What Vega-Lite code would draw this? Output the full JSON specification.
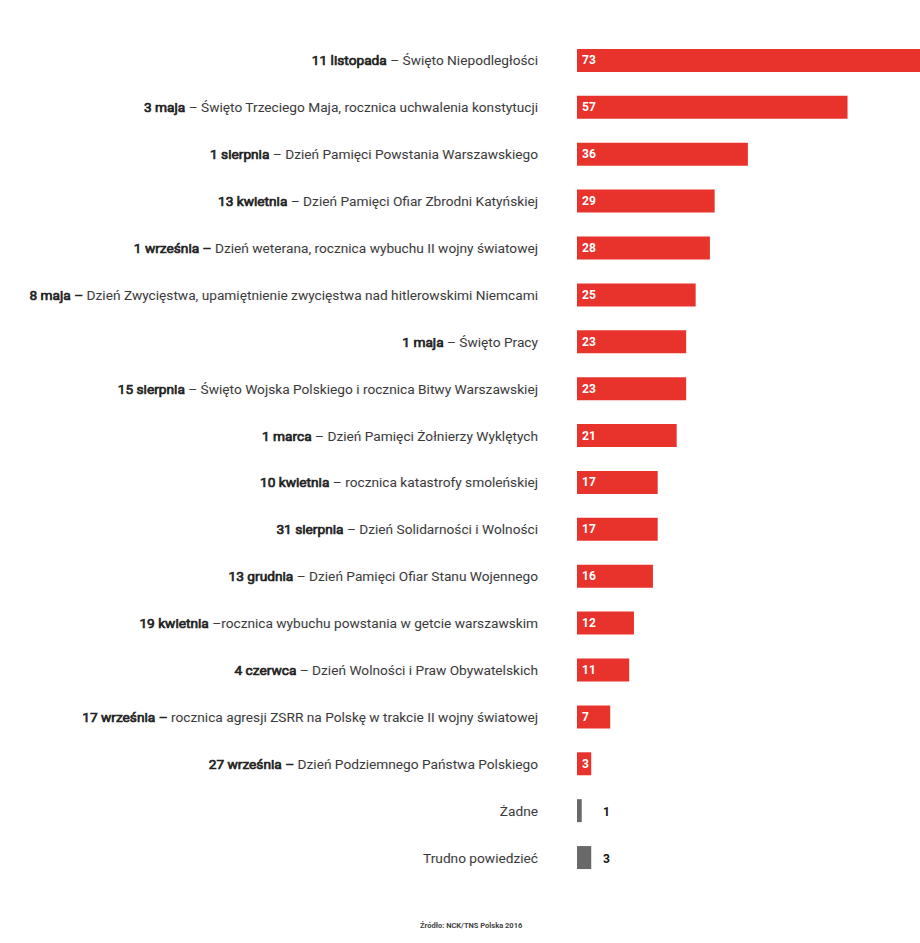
{
  "$schema": "https://vega.github.io/schema/vega-lite/v6.json",
  "width": 920,
  "height": 943,
  "padding": 0,
  "autosize": {"type": "none"},
  "background": "white",
  "config": {"view": {"stroke": null}},
  "title": {"text": "Źródło: NCK/TNS Polska 2016", "orient": "bottom", "anchor": "start", "dx": 420, "offset": -21, "baseline": "top", "fontSize": 7.5, "fontWeight": "bold", "color": "#444", "font": "Roboto, sans-serif"},
  "data": {"values": [
    {"bold": "11 listopada", "rest": " – Święto Niepodległości", "value": 73, "kind": "red"},
    {"bold": "3 maja", "rest": " – Święto Trzeciego Maja, rocznica uchwalenia konstytucji", "value": 57, "kind": "red"},
    {"bold": "1 sierpnia", "rest": " – Dzień Pamięci Powstania Warszawskiego", "value": 36, "kind": "red"},
    {"bold": "13 kwietnia", "rest": " – Dzień Pamięci Ofiar Zbrodni Katyńskiej", "value": 29, "kind": "red"},
    {"bold": "1 września –", "rest": " Dzień weterana, rocznica wybuchu II wojny światowej", "value": 28, "kind": "red"},
    {"bold": "8 maja –", "rest": " Dzień Zwycięstwa, upamiętnienie zwycięstwa nad hitlerowskimi Niemcami", "value": 25, "kind": "red"},
    {"bold": "1 maja", "rest": " – Święto Pracy", "value": 23, "kind": "red"},
    {"bold": "15 sierpnia", "rest": " – Święto Wojska Polskiego i rocznica Bitwy Warszawskiej", "value": 23, "kind": "red"},
    {"bold": "1 marca", "rest": " – Dzień Pamięci Żołnierzy Wyklętych", "value": 21, "kind": "red"},
    {"bold": "10 kwietnia", "rest": " – rocznica katastrofy smoleńskiej", "value": 17, "kind": "red"},
    {"bold": "31 sierpnia", "rest": " – Dzień Solidarności i Wolności", "value": 17, "kind": "red"},
    {"bold": "13 grudnia", "rest": " – Dzień Pamięci Ofiar Stanu Wojennego", "value": 16, "kind": "red"},
    {"bold": "19 kwietnia", "rest": " –rocznica wybuchu powstania w getcie warszawskim", "value": 12, "kind": "red"},
    {"bold": "4 czerwca", "rest": " – Dzień Wolności i Praw Obywatelskich", "value": 11, "kind": "red"},
    {"bold": "17 września –", "rest": " rocznica agresji ZSRR na Polskę w trakcie II wojny światowej", "value": 7, "kind": "red"},
    {"bold": "27 września –", "rest": " Dzień Podziemnego Państwa Polskiego", "value": 3, "kind": "red"},
    {"bold": "", "rest": "Żadne", "value": 1, "kind": "gray"},
    {"bold": "", "rest": "Trudno powiedzieć", "value": 3, "kind": "gray"}
  ]},
  "transform": [{"calculate": "datum.bold + datum.rest", "as": "label"}],
  "encoding": {
    "y": {"field": "label", "type": "nominal", "sort": null, "axis": null,
          "scale": {"range": [37, 881], "paddingInner": 0.51, "paddingOuter": 0.255}}
  },
  "layer": [
    {
      "mark": {"type": "bar"},
      "encoding": {
        "x": {"field": "value", "type": "quantitative", "axis": null, "scale": {"domain": [0, 73], "range": [577, 923.5], "nice": false, "zero": true}},
        "color": {"field": "kind", "type": "nominal", "legend": null, "scale": {"domain": ["red", "gray"], "range": ["#e8322c", "#696969"]}}
      }
    },
    {
      "mark": {"type": "text", "align": "right", "baseline": "middle", "dx": -39, "dy": 1, "font": "Roboto, sans-serif", "fontSize": 13.7, "fill": "#222", "stroke": "#222", "strokeWidth": 0.7},
      "encoding": {"x": {"datum": 0}, "text": {"field": "label"}}
    },
    {
      "mark": {"type": "text", "align": "right", "baseline": "middle", "dx": -39, "dy": 1, "font": "Roboto, sans-serif", "fontSize": 13.7, "fill": "white", "stroke": "white", "strokeWidth": 1.8},
      "encoding": {"x": {"datum": 0}, "text": {"field": "rest"}}
    },
    {
      "mark": {"type": "text", "align": "right", "baseline": "middle", "dx": -39, "dy": 1, "font": "Roboto, sans-serif", "fontSize": 13.7, "fill": "#3a3a3a"},
      "encoding": {"x": {"datum": 0}, "text": {"field": "rest"}}
    },
    {
      "transform": [{"filter": "datum.kind == 'red'"}],
      "mark": {"type": "text", "align": "left", "baseline": "middle", "dx": 5, "dy": 0, "font": "Roboto, sans-serif", "fontSize": 12, "fontWeight": "bold", "fill": "white"},
      "encoding": {"x": {"datum": 0}, "text": {"field": "value"}}
    },
    {
      "transform": [{"filter": "datum.kind == 'gray'"}],
      "mark": {"type": "text", "align": "left", "baseline": "middle", "dx": 26, "dy": 1, "font": "Roboto, sans-serif", "fontSize": 12, "fontWeight": "bold", "fill": "#111"},
      "encoding": {"x": {"datum": 0}, "text": {"field": "value"}}
    }
  ]
}
